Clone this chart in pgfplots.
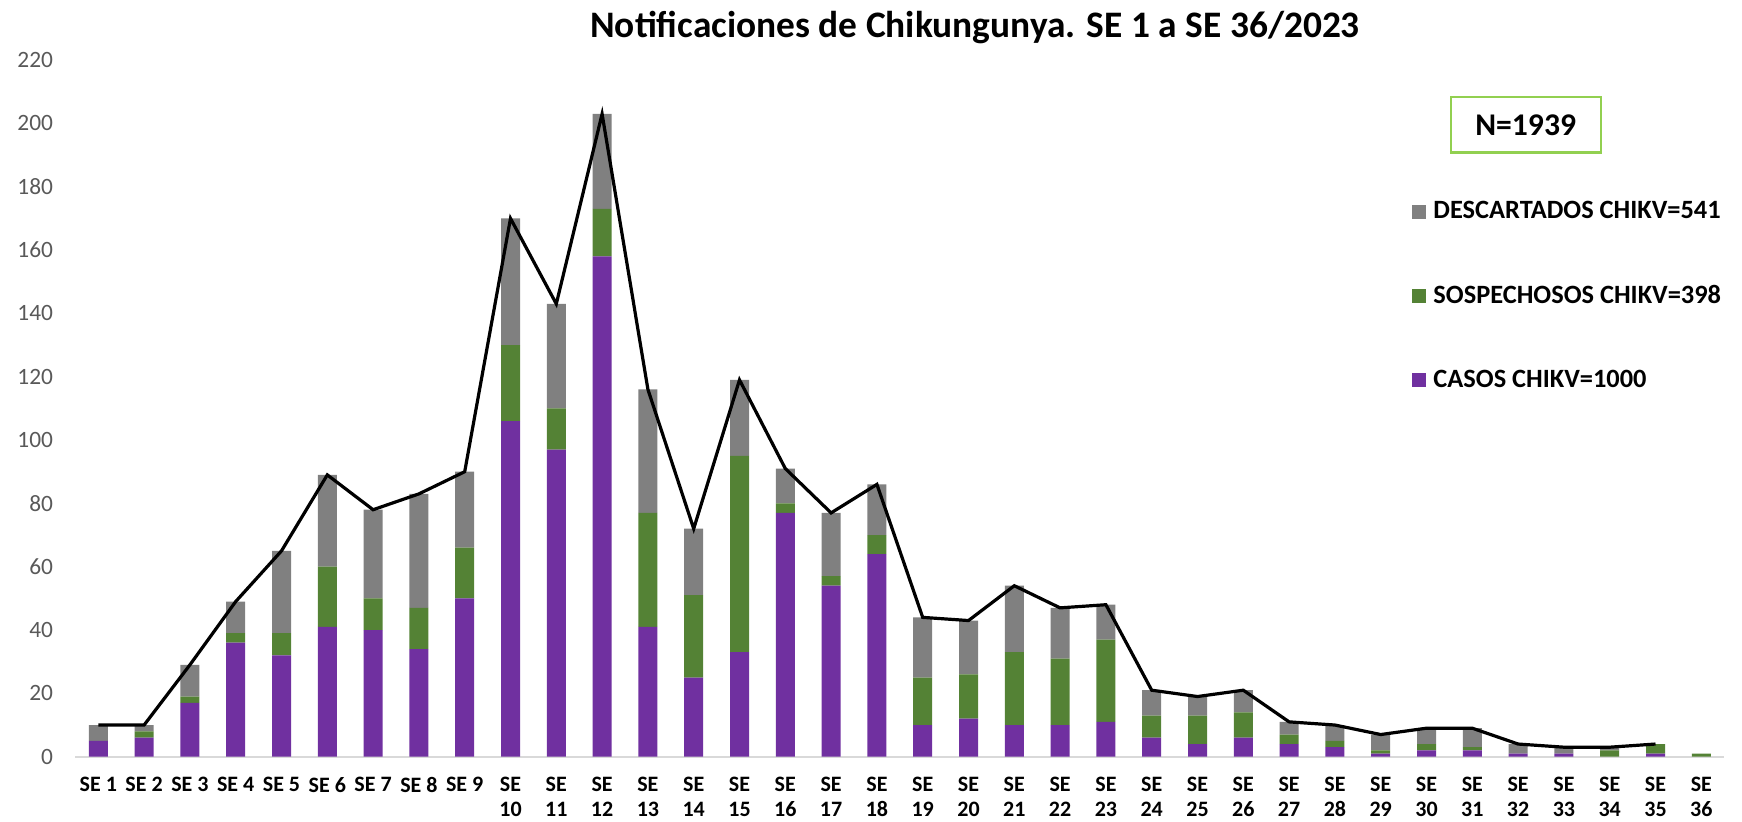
\documentclass[border=0pt]{standalone}
\usepackage{fontspec}
\setmainfont{Carlito}
\usepackage{pgfplots}
\usepackage{pgfplotstable}
\pgfplotsset{compat=1.18}

\definecolor{casos}{HTML}{7030A0}
\definecolor{sosp}{HTML}{548235}
\definecolor{desc}{HTML}{808080}
\definecolor{axisgrey}{HTML}{D9D9D9}
\definecolor{ticktext}{HTML}{595959}
\definecolor{nbox}{HTML}{92D050}

\pgfplotstableread{
x casos sosp desc total
0 5 0 5 10
1 6 2 2 10
2 17 2 10 29
3 36 3 10 49
4 32 7 26 65
5 41 19 29 89
6 40 10 28 78
7 34 13 36 83
8 50 16 24 90
9 106 24 40 170
10 97 13 33 143
11 158 15 30 203
12 41 36 39 116
13 25 26 21 72
14 33 62 24 119
15 77 3 11 91
16 54 3 20 77
17 64 6 16 86
18 10 15 19 44
19 12 14 17 43
20 10 23 21 54
21 10 21 16 47
22 11 26 11 48
23 6 7 8 21
24 4 9 6 19
25 6 8 7 21
26 4 3 4 11
27 3 2 5 10
28 1 1 5 7
29 2 2 5 9
30 2 1 6 9
31 1 0 3 4
32 1 0 2 3
33 0 2 1 3
34 1 3 0 4
35 0 1 0 1
}\datatable

\begin{document}
\begin{tikzpicture}
\useasboundingbox (0,0) rectangle (871bp,411bp);
\begin{axis}[
  at={(37.7bp,32.65bp)}, anchor=south west,
  scale only axis, width=824.4bp, height=348.3bp,
  xmin=-0.5, xmax=35.5, ymin=0, ymax=220,
  ybar stacked, bar width=9.5bp,
  axis x line=bottom, axis y line=left,
  x axis line style={draw=axisgrey, line width=1bp, -},
  y axis line style={draw=none},
  major tick length=0pt,
  ytick={0,20,...,220},
  xtick={0,...,35},
  xticklabels={SE 1,SE 2,SE 3,SE 4,SE 5,SE 6,SE 7,SE 8,SE 9,
    {SE\\10},{SE\\11},{SE\\12},{SE\\13},{SE\\14},{SE\\15},{SE\\16},{SE\\17},{SE\\18},{SE\\19},
    {SE\\20},{SE\\21},{SE\\22},{SE\\23},{SE\\24},{SE\\25},{SE\\26},{SE\\27},{SE\\28},{SE\\29},
    {SE\\30},{SE\\31},{SE\\32},{SE\\33},{SE\\34},{SE\\35},{SE\\36}},
  /pgf/number format/assume math mode=true,
  yticklabel style={font=\fontsize{11.7bp}{14bp}\selectfont, text=ticktext, anchor=east, inner sep=0pt, xshift=-11bp},
  xticklabel style={font=\fontsize{11bp}{12.5bp}\selectfont\bfseries, align=center, anchor=north, inner sep=0pt, yshift=-10bp},
  reverse legend,
  legend cell align=left,
  legend image code/.code={\fill[#1] (0bp,-3.5bp) rectangle (7bp,3.5bp);},
  legend style={at={(0.8108,0.797)}, anchor=north west, draw=none, fill=none,
    inner sep=0pt, outer sep=0pt, row sep=31.8bp, column sep=3.6bp,
    font=\fontsize{13.2bp}{15bp}\selectfont\bfseries,
    nodes={inner sep=0pt}},
  clip=false,
]
\addplot[fill=casos, draw=none] table[x=x, y=casos] {\datatable};
\addlegendentry{CASOS CHIKV=1000}
\addplot[fill=sosp, draw=none] table[x=x, y=sosp] {\datatable};
\addlegendentry{SOSPECHOSOS CHIKV=398}
\addplot[fill=desc, draw=none] table[x=x, y=desc] {\datatable};
\addlegendentry{DESCARTADOS CHIKV=541}
\end{axis}
\begin{axis}[
  at={(37.7bp,32.65bp)}, anchor=south west,
  scale only axis, width=824.4bp, height=348.3bp,
  xmin=-0.5, xmax=35.5, ymin=0, ymax=220,
  hide axis, clip=false,
]
\addplot[sharp plot, black, line width=1.6bp, line join=miter, restrict x to domain=0:34] table[x=x, y=total] {\datatable};
\end{axis}
\node[font=\fontsize{18.7bp}{22bp}\selectfont\bfseries, anchor=base] at (487.5bp,392bp) {Notificaciones de Chikungunya. SE 1 a SE 36/2023};
\node[draw=nbox, line width=1.2bp, minimum width=75bp, minimum height=27.7bp, inner sep=0pt, font=\fontsize{15.8bp}{18bp}\selectfont\bfseries] at (762.85bp,348.5bp) {N=1939};
\end{tikzpicture}
\end{document}
